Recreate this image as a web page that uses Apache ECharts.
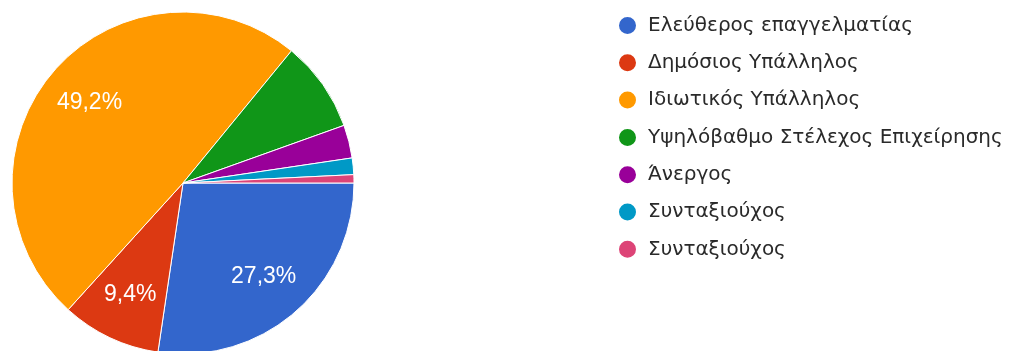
<!DOCTYPE html>
<html>
<head>
<meta charset="utf-8">
<script src="https://cdn.jsdelivr.net/npm/echarts@6/dist/echarts.min.js"></script>
<style>
  html, body { margin: 0; padding: 0; background: #ffffff; }
  #chart { width: 1013px; height: 351px; }
</style>
</head>
<body>
<div id="chart"></div>
<script>
// Occupation categories and number of responses
const categories = [
  'Ελεύθερος επαγγελματίας',
  'Δημόσιος Υπάλληλος',
  'Ιδιωτικός Υπάλληλος',
  'Υψηλόβαθμο Στέλεχος Επιχείρησης',
  'Άνεργος',
  'Συνταξιούχος',
  'Συνταξιούχος'
];
const counts = [35, 12, 63, 11, 4, 2, 1];
const colors = ['#3366cc', '#dc3912', '#ff9900', '#109618', '#990099', '#0099c6', '#dd4477'];

// Percent labels are printed only on slices above this share
const labelThreshold = 9;

// Unique keys so repeated category names still get their own legend entry
const keys = categories.map((c, i) => c + '#' + i);
const labelOf = key => key.replace(/#\d+$/, '');

const total = counts.reduce((a, b) => a + b, 0);
const pieData = counts.map((v, i) => ({ name: keys[i], value: v }));

const center = [183, 183];
const outerR = 171;

const chart = echarts.init(document.getElementById('chart'), null, { renderer: 'canvas' });
chart.setOption({
  animation: false,
  color: colors,
  legend: {
    orient: 'vertical',
    left: 612,
    top: 10,
    icon: 'circle',
    itemWidth: 19,
    itemHeight: 19,
    itemGap: 16.3,
    data: keys,
    formatter: labelOf,
    textStyle: {
      fontFamily: 'DejaVu Sans, sans-serif',
      fontSize: 20,
      lineHeight: 20,
      color: '#2a2a2a',
      padding: [0, 0, 0, 6]
    }
  },
  series: [
    {
      type: 'pie',
      center: center,
      radius: [0, outerR],
      startAngle: 0,
      clockwise: true,
      silent: true,
      data: pieData,
      itemStyle: { borderColor: '#ffffff', borderWidth: 1 },
      label: { show: false },
      labelLine: { show: false }
    },
    {
      // transparent ring that only carries the percentage labels
      type: 'pie',
      center: center,
      radius: [70, outerR],
      startAngle: 0,
      clockwise: true,
      silent: true,
      legendHoverLink: false,
      data: pieData,
      itemStyle: { color: 'rgba(0,0,0,0)' },
      label: {
        show: true,
        position: 'inside',
        color: '#ffffff',
        fontFamily: 'Liberation Sans, Arial, sans-serif',
        fontSize: 23,
        formatter: p => (p.value / total * 100 > labelThreshold)
          ? (p.value / total * 100).toFixed(1).replace('.', ',') + '%'
          : ''
      },
      labelLine: { show: false }
    }
  ]
});
</script>
</body>
</html>
